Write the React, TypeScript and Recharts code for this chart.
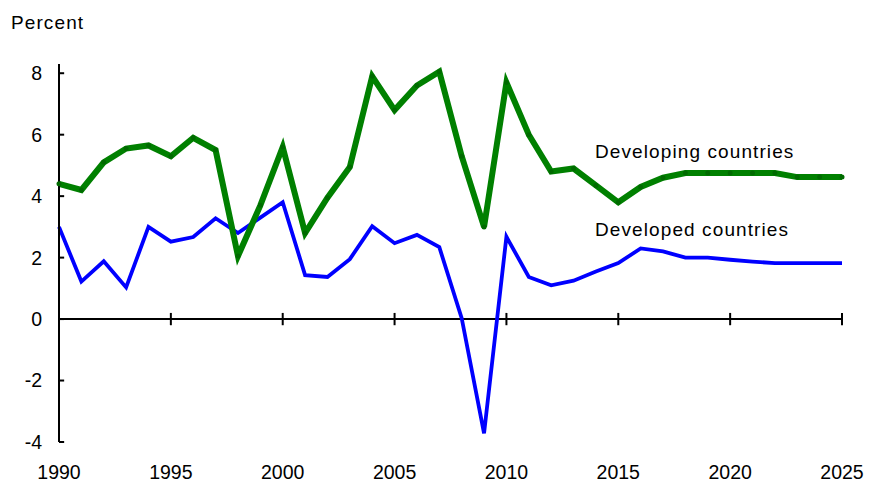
import { LineChart, Line, XAxis, YAxis, ReferenceLine } from "recharts";

const years = [
  1990, 1991, 1992, 1993, 1994, 1995, 1996, 1997, 1998, 1999, 2000, 2001, 2002, 2003, 2004, 2005, 2006, 2007,
  2008, 2009, 2010, 2011, 2012, 2013, 2014, 2015, 2016, 2017, 2018, 2019, 2020, 2021, 2022, 2023, 2024, 2025,
];

const developing = [
  4.4, 4.2, 5.1, 5.55, 5.65, 5.3, 5.9, 5.5, 2.05, 3.7, 5.6, 2.8, 3.95, 4.95, 7.9, 6.8, 7.6, 8.05, 5.3, 3.0, 7.7,
  6.0, 4.8, 4.9, 4.35, 3.8, 4.3, 4.6, 4.75, 4.75, 4.75, 4.75, 4.75, 4.62, 4.62, 4.62,
];

const developed = [
  3.0, 1.22, 1.88, 1.03, 3.0, 2.52, 2.67, 3.28, 2.8, 3.3, 3.8, 1.43, 1.37, 1.95, 3.02, 2.47, 2.74, 2.34, 0.03,
  -3.72, 2.68, 1.37, 1.1, 1.25, 1.55, 1.82, 2.3, 2.2, 2.0, 2.0, 1.93, 1.87, 1.82, 1.82, 1.82, 1.82,
];

const xTicks = [1990, 1995, 2000, 2005, 2010, 2015, 2020, 2025];
const yTicks = [-4, -2, 0, 2, 4, 6, 8];

const seriesLabels = ["Developing countries", "Developed countries"];

const data = years.map((yr, i) => ({ year: yr, developing: developing[i], developed: developed[i] }));

const font = '"Liberation Sans", Arial, sans-serif';

export default function App() {
  return (
    <div style={{ position: "absolute", left: 0, top: 0, width: 869, height: 483, background: "#fff", fontFamily: font }}>
      <div style={{ position: "absolute", left: 11, top: 12, fontSize: 19, letterSpacing: 1.1, color: "#000" }}>Percent</div>
      <div style={{ position: "absolute", left: 595, top: 141, fontSize: 19, letterSpacing: 1.1, color: "#000", zIndex: 2 }}>
        {seriesLabels[0]}
      </div>
      <div style={{ position: "absolute", left: 595, top: 219, fontSize: 19, letterSpacing: 1.1, color: "#000", zIndex: 2 }}>
        {seriesLabels[1]}
      </div>
      <LineChart width={869} height={483} data={data} margin={{ top: 64, right: 27, left: 0, bottom: 0 }}>
        <XAxis
          dataKey="year"
          type="number"
          domain={[1990, 2025]}
          ticks={xTicks}
          axisLine={false}
          tickLine={false}
          tickMargin={17}
          height={41}
          tick={{ fill: "#000", fontSize: 19.5, fontFamily: font }}
        />
        <YAxis
          type="number"
          domain={[-4, 8.3]}
          ticks={yTicks}
          width={59}
          tickLine={false}
          tickMargin={11}
          axisLine={{ stroke: "#000", strokeWidth: 2 }}
          tick={{ fill: "#000", fontSize: 19.5, fontFamily: font }}
        />
        <ReferenceLine y={0} stroke="#000" strokeWidth={2} />
        {yTicks.map((v) => (
          <ReferenceLine
            key={"y" + v}
            segment={[
              { x: 1990, y: v },
              { x: 1990.23, y: v },
            ]}
            stroke="#000"
            strokeWidth={2}
          />
        ))}
        {xTicks.slice(1).map((yr) => (
          <ReferenceLine
            key={"x" + yr}
            segment={[
              { x: yr, y: -0.2 },
              { x: yr, y: 0.2 },
            ]}
            stroke="#000"
            strokeWidth={2}
          />
        ))}
        <Line
          type="linear"
          dataKey="developed"
          stroke="#0000ff"
          strokeWidth={3.8}
          dot={false}
          isAnimationActive={false}
        />
        <Line
          type="linear"
          dataKey="developing"
          stroke="#008000"
          strokeWidth={6}
          dot={{ r: 2.5, fill: "#006a00", stroke: "none" }}
          isAnimationActive={false}
        />
      </LineChart>
    </div>
  );
}
